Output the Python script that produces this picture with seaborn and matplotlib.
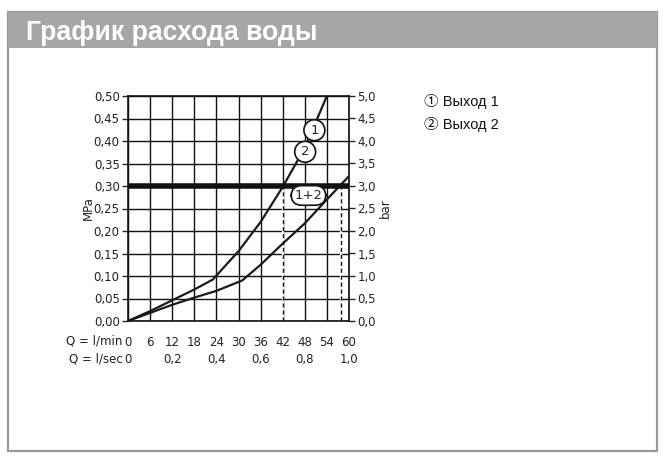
import numpy as np
import pandas as pd
import matplotlib
matplotlib.use("Agg")
import matplotlib.pyplot as plt
from matplotlib.patches import Rectangle
import seaborn as sns

# flow in l/min and pressure in MPa
q_single = [0, 6, 12, 18, 23, 30, 36, 42, 48, 54]
p_single = [0, 0.022, 0.046, 0.07, 0.092, 0.155, 0.22, 0.298, 0.385, 0.50]
q_both = [0, 6, 12, 18, 24, 31, 36, 42, 48, 54, 60]
p_both = [0, 0.018, 0.036, 0.052, 0.067, 0.09, 0.125, 0.172, 0.217, 0.27, 0.322]

x_ticks = [0, 6, 12, 18, 24, 30, 36, 42, 48, 54, 60]
lsec_ticks = [0, 0.2, 0.4, 0.6, 0.8, 1.0]
y_ticks = [0, 0.05, 0.10, 0.15, 0.20, 0.25, 0.30, 0.35, 0.40, 0.45, 0.50]
work_pressure = 0.30
dash_q = [42, 57.8]
legend_items = ["\u2460 Выход 1", "\u2461 Выход 2"]

sns.set_style("white")
plt.rcParams['font.family'] = ['DejaVu Sans']
FS = 8.5
TXT = '#222222'

df = pd.concat([
    pd.DataFrame({'q': q_single, 'p': p_single, 'curve': '1/2'}),
    pd.DataFrame({'q': q_both, 'p': p_both, 'curve': '1+2'}),
])

fig = plt.figure(figsize=(6.67, 4.63), dpi=100)

# frame and title bar
fig.patches.append(Rectangle((8 / 667, 1 - 451 / 463), 649 / 667, 439 / 463,
                             transform=fig.transFigure, fill=False,
                             edgecolor='#9a9a9a', linewidth=1.6))
fig.patches.append(Rectangle((8 / 667, 1 - 47.5 / 463), 649 / 667, 35.5 / 463,
                             transform=fig.transFigure, facecolor='#a6a6a6',
                             edgecolor='none'))
fig.text(26 / 667, 1 - 40 / 463, "График расхода воды", color='white',
         fontsize=19.2, fontweight='bold', family='Liberation Sans',
         va='baseline', ha='left')

ax = fig.add_axes([128 / 667, 1 - 321 / 463, 221 / 667, 225 / 463])
sns.lineplot(data=df, x='q', y='p', hue='curve', palette=['#1a1a1a', '#1a1a1a'],
             linewidth=1.6, legend=False, ax=ax, sort=False)

ax.axhline(work_pressure, color='#111111', linewidth=4, zorder=3)
for q in dash_q:
    # blank out the grid below the working pressure, then dash it
    ax.plot([q, q], [0.002, work_pressure - 0.005], color='white', linewidth=1.6,
            zorder=1.5)
    ax.plot([q, q], [0, work_pressure], color='#111111', linewidth=1,
            linestyle=(0, (3, 2)), zorder=1.6)

ax.set_xlim(0, 60)
ax.set_ylim(0, 0.5)
ax.set_xticks(x_ticks)
ax.set_yticks(y_ticks)
ax.grid(True, color='#111111', linewidth=1)
ax.set_axisbelow(True)
for s in ax.spines.values():
    s.set_color('#111111')
    s.set_linewidth(1.2)

ax.set_yticklabels([f"{v:.2f}".replace('.', ',') for v in y_ticks], fontsize=FS,
                   color=TXT)
ax.set_xticklabels([str(v) for v in x_ticks], fontsize=FS, color=TXT)
ax.tick_params(axis='y', length=4, width=1, pad=2, left=True)
ax.tick_params(axis='x', length=0, pad=11)
ax.set_ylabel("MPa", fontsize=FS, color=TXT, labelpad=-1)
ax.set_xlabel("")

ax2 = ax.twinx()
ax2.set_ylim(0, 5)
ax2.set_yticks([v * 10 for v in y_ticks])
ax2.set_yticklabels([f"{v * 10:.1f}".replace('.', ',') for v in y_ticks],
                    fontsize=FS, color=TXT)
ax2.tick_params(axis='y', length=4, width=1, pad=2, right=True)
ax2.set_ylabel("bar", fontsize=FS, color=TXT, rotation=90, labelpad=2)
for s in ax2.spines.values():
    s.set_visible(False)

# second row of flow labels and row captions
tr = ax.get_xaxis_transform()
for v in lsec_ticks:
    ax.text(v * 60, -0.169, f"{v:.1f}".replace('.', ',').replace('0,0', '0'),
            transform=tr, ha='center', va='center', fontsize=FS, color=TXT)
ax.text(-0.025, -0.089, "Q = l/min", transform=ax.transAxes, ha='right',
        va='center', fontsize=FS, color=TXT)
ax.text(-0.025, -0.169, "Q = l/sec", transform=ax.transAxes, ha='right',
        va='center', fontsize=FS, color=TXT)

# curve markers
circ = dict(boxstyle='circle,pad=0.3', facecolor='white', edgecolor='#111111',
            linewidth=1.2)
ax.text(50.6, 0.424, "1", ha='center', va='center', fontsize=9.5, bbox=circ,
        zorder=5)
ax.text(48.1, 0.376, "2", ha='center', va='center', fontsize=9.5, bbox=circ,
        zorder=5)
ax.text(49.0, 0.279, "1+2", ha='center', va='center', fontsize=9.5, zorder=5,
        bbox=dict(boxstyle='round,pad=0.25,rounding_size=0.8', facecolor='white',
                  edgecolor='#111111', linewidth=1.2))

for i, item in enumerate(legend_items):
    fig.text(424 / 667, 1 - (101 + 23 * i) / 463, item, fontsize=10.5,
             family=['Liberation Sans', 'Noto Sans CJK SC', 'DejaVu Sans'],
             va='center', ha='left', color='#111111')

fig.savefig("out.png", dpi=100)
